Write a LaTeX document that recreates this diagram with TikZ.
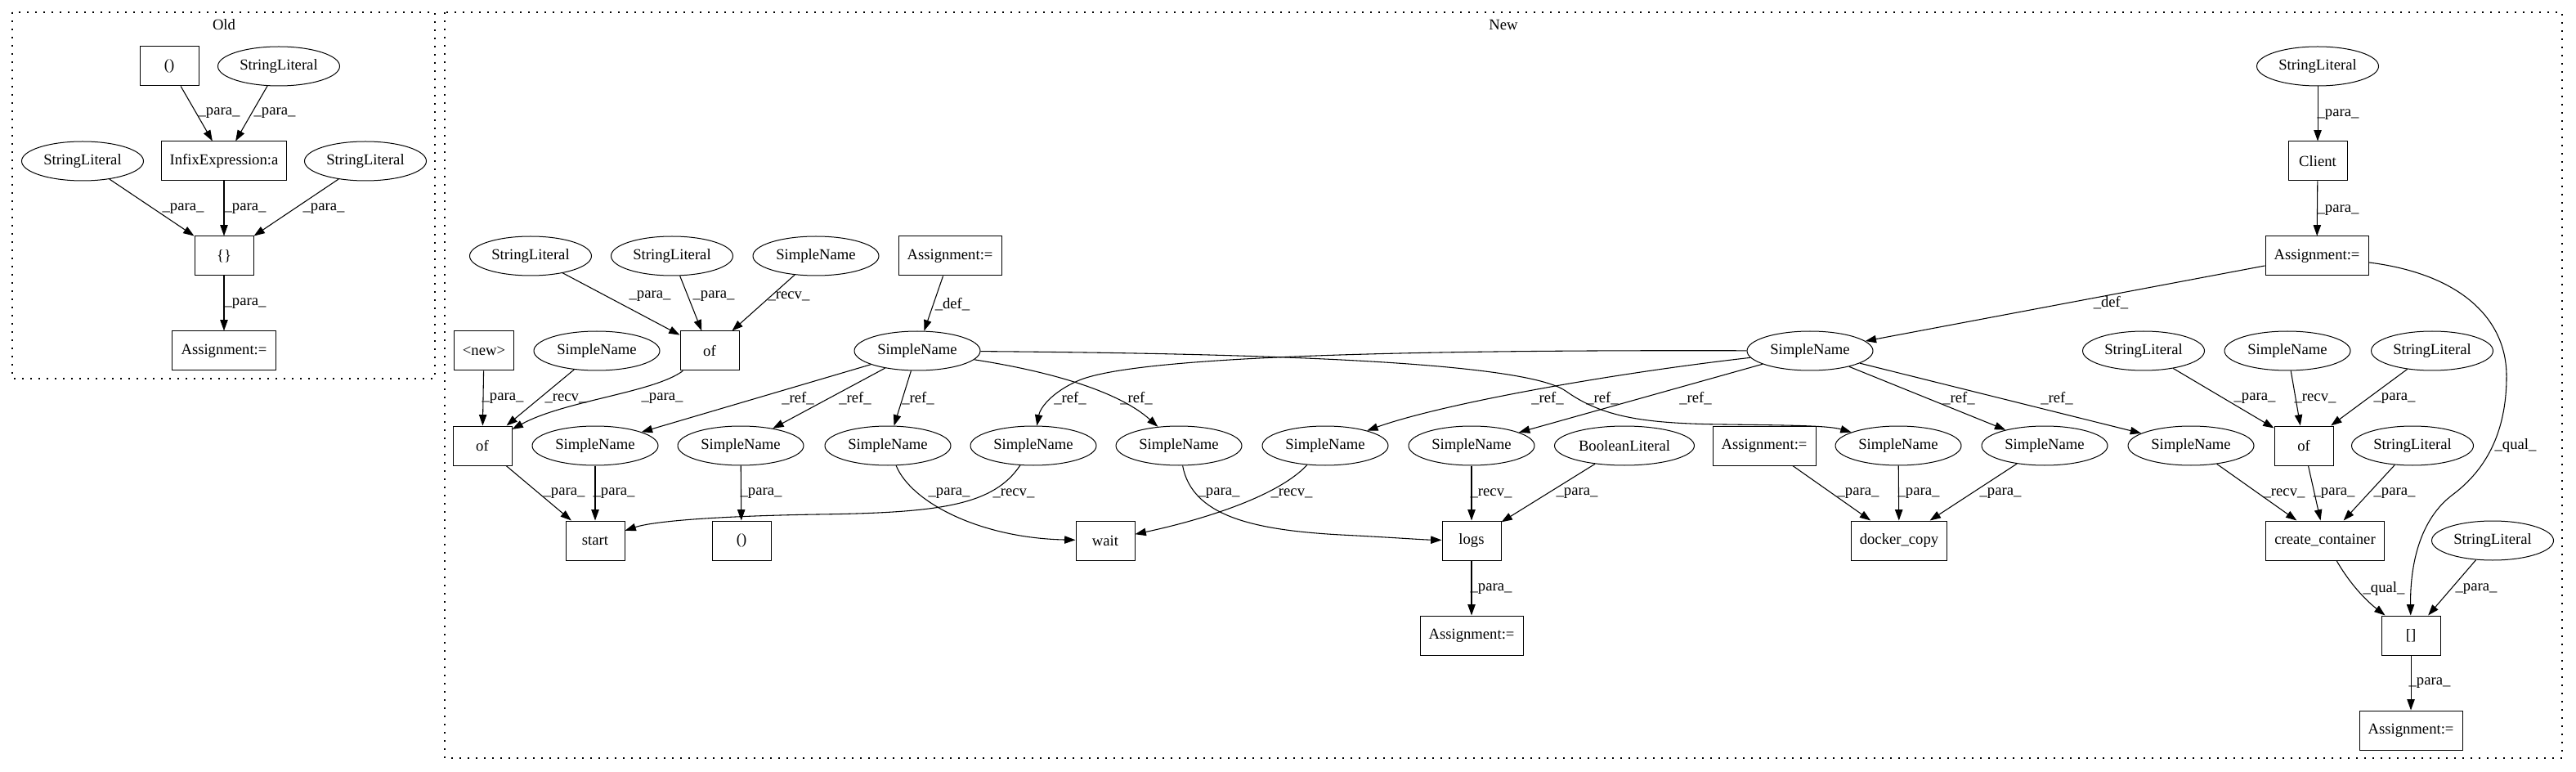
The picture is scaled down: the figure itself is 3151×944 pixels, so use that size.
\documentclass[tikz,border=0pt]{standalone}
\usepackage{fontspec}
\setmainfont{Liberation Serif}
\usetikzlibrary{shapes.geometric,arrows.meta}
\begin{document}
\begin{tikzpicture}[x=0.75pt,y=-0.75pt,
  every node/.style={font=\fontsize{14pt}{16.8pt}\selectfont},
  box/.style={draw,line width=0.75pt,rectangle,minimum width=54pt,minimum height=36pt,inner xsep=7.92pt,inner ysep=0pt},
  ell/.style={draw,line width=0.75pt,ellipse,minimum height=36pt,inner sep=0pt},
  sl/.style={ell,minimum width=111.75pt},
  sn/.style={ell,minimum width=115.5pt},
  bl/.style={ell,minimum width=128.25pt},
  edge/.style={line width=0.8pt,-{Triangle[length=10pt,width=7pt]}},
  lbl/.style={inner sep=0pt},
  cluster/.style={line width=1pt,dash pattern=on 1.2pt off 6.3pt},
]
\useasboundingbox (0,0) rectangle (3151,944);

% ---------------- Old ----------------
\draw[cluster] (15,15) rectangle (532,463);
\node (oldlbl) at (274,30) {Old};
\node[box] (o1) at (207,81) {()};
\node[sl]  (o2) at (341,81) {StringLiteral};
\node[box] (o3) at (274,197) {InfixExpression:a};
\node[sl]  (o4) at (101,197) {StringLiteral};
\node[sl]  (o5) at (447,197) {StringLiteral};
\node[box] (o6) at (274,313) {\{\}};
\node[box] (o7) at (274,429) {Assignment:=};

\draw[edge] (o1) -- (o3); \node[lbl] (lo1) at (268,138) {\_para\_};
\draw[edge] (o2) -- (o3); \node[lbl] (lo2) at (336,138) {\_para\_};
\draw[edge] (o4) -- (o6); \node[lbl] (lo3) at (224,255) {\_para\_};
\draw[edge] (o3) -- (o6); \node[lbl] (lo4) at (300,255) {\_para\_};
\draw[edge] (o5) -- (o6); \node[lbl] (lo5) at (396,255) {\_para\_};
\draw[edge] (o6) -- (o7); \node[lbl] (lo6) at (300,371) {\_para\_};

% ---------------- New ----------------
\draw[cluster] (544,15) rectangle (3134,927);
\node (newlbl) at (1839,30) {New};

\node[sl]  (Q) at (2835,81) {StringLiteral};
\node[box] (Cl) at (2835,197) {Client};
\node[box] (R) at (2834,313) {Assignment:=};

\node[sl]  (A) at (649,313) {StringLiteral};
\node[sl]  (B) at (822,313) {StringLiteral};
\node[sn]  (C) at (998,313) {SimpleName};
\node[box] (D) at (1162,313) {Assignment:=};

\node[box] (nw) at (592,429) {<new>};
\node[sn]  (E) at (730,429) {SimpleName};
\node[box] (F) at (868,429) {of};
\node[sn]  (G) at (1122,429) {SimpleName};
\node[sn]  (V) at (2214,429) {SimpleName};
\node[sl]  (S) at (2622,429) {StringLiteral};
\node[sn]  (T) at (2798,429) {SimpleName};
\node[sl]  (U) at (2975,429) {StringLiteral};

\node[box] (H) at (590,545) {of};
\node[sn]  (I) at (728,545) {SimpleName};
\node[sn]  (J) at (906,545) {SimpleName};
\node[sn]  (K) at (1086,545) {SimpleName};
\node[sn]  (BB) at (1264,545) {SimpleName};
\node[sn]  (CC) at (1442,545) {SimpleName};
\node[sn]  (DD) at (1621,545) {SimpleName};
\node[sn]  (X) at (1800,545) {SimpleName};
\node[bl]  (Y) at (1987,545) {BooleanLiteral};
\node[box] (Z) at (2158,545) {Assignment:=};
\node[sn]  (AA) at (2322,545) {SimpleName};
\node[sn]  (L) at (2501,545) {SimpleName};
\node[sn]  (M) at (2680,545) {SimpleName};
\node[box] (N) at (2818,545) {of};
\node[sl]  (O) at (2951,545) {StringLiteral};

\node[box] (st) at (728,661) {start};
\node[box] (pa) at (907,661) {()};
\node[box] (wt) at (1352,661) {wait};
\node[box] (lg) at (1800,661) {logs};
\node[box] (dc) at (2323,661) {docker\_copy};
\node[box] (cc) at (2844,661) {create\_container};
\node[sl]  (P) at (3049,661) {StringLiteral};

\node[box] (la) at (1800,777) {Assignment:=};
\node[box] (br) at (2949,777) {[]};
\node[box] (fa) at (2949,893) {Assignment:=};

% edges
\draw[edge] (Q) -- (Cl); \node[lbl] (l1) at (2860,140) {\_para\_};
\draw[edge] (Cl) -- (R); \node[lbl] (l2) at (2860,257) {\_para\_};
\draw[edge] (R) -- (V.10); \node[lbl] (l3) at (2582,370) {\_def\_};
\draw[edge] (R) .. controls (3010,335) and (3066,390) .. (3066,460)
  .. controls (3066,530) and (3040,575) .. (3000,605)
  .. controls (2960,635) and (2948,690) .. (br);
\node[lbl] (l4) at (3077,545) {\_qual\_};
\draw[edge] (D) -- (G); \node[lbl] (l5) at (1165,372) {\_def\_};
\draw[edge] (A) -- (F); \node[lbl] (l6) at (795,362) {\_para\_};
\draw[edge] (B) -- (F); \node[lbl] (l7) at (873,362) {\_para\_};
\draw[edge] (C) -- (F); \node[lbl] (l8) at (965,362) {\_recv\_};
\draw[edge] (nw) -- (H); \node[lbl] (l9) at (615,487) {\_para\_};
\draw[edge] (E) -- (H); \node[lbl] (l10) at (692,487) {\_recv\_};
\draw[edge] (F) .. controls (800,480) and (690,490) .. (H); \node[lbl] (l11) at (810,487) {\_para\_};
\draw[edge] (H) -- (st); \node[lbl] (l12) at (690,603) {\_para\_};
\draw[edge] (I) -- (st); \node[lbl] (l13) at (751,603) {\_para\_};
\draw[edge] (G) -- (I); \node[lbl] (l14) at (976,487) {\_ref\_};
\draw[edge] (G) -- (J); \node[lbl] (l15) at (1046,487) {\_ref\_};
\draw[edge] (G) -- (K); \node[lbl] (l16) at (1123,487) {\_ref\_};
\draw[edge] (J) -- (pa); \node[lbl] (l17) at (931,603) {\_para\_};
\draw[edge] (K) .. controls (1115,615) and (1200,658) .. (wt); \node[lbl] (l18) at (1161,603) {\_para\_};
\draw[edge] (BB) .. controls (1215,618) and (1150,627) .. (1000,629)
  .. controls (880,631) and (800,637) .. (st);
\node[lbl] (l19) at (1240,603) {\_recv\_};
\draw[edge] (G) .. controls (1290,455) and (1370,480) .. (CC); \node[lbl] (l20) at (1390,487) {\_ref\_};
\draw[edge] (V) .. controls (1800,428) and (1400,432) .. (1320,465)
  .. controls (1285,480) and (1272,500) .. (BB);
\node[lbl] (l21) at (1309,487) {\_ref\_};
\draw[edge] (DD) .. controls (1560,610) and (1460,638) .. (wt); \node[lbl] (l22) at (1580,603) {\_recv\_};
\draw[edge] (CC) .. controls (1458,630) and (1530,648) .. (1640,654)
  .. controls (1700,657) and (1740,660) .. (lg);
\node[lbl] (l23) at (1491,603) {\_para\_};
\draw[edge] (X) -- (lg); \node[lbl] (l24) at (1824,603) {\_recv\_};
\draw[edge] (Y) -- (lg); \node[lbl] (l25) at (1929,603) {\_para\_};
\draw[edge] (lg) -- (la); \node[lbl] (l26) at (1824,720) {\_para\_};
\draw[edge] (Z) -- (dc); \node[lbl] (l27) at (2273,603) {\_para\_};
\draw[edge] (AA) -- (dc); \node[lbl] (l28) at (2347,603) {\_para\_};
\draw[edge] (L) -- (dc); \node[lbl] (l29) at (2447,603) {\_para\_};
\draw[edge] (V) -- (L); \node[lbl] (l30) at (2396,487) {\_ref\_};
\draw[edge] (V) -- (M); \node[lbl] (l31) at (2516,487) {\_ref\_};
\draw[edge] (V) .. controls (1960,458) and (1760,495) .. (DD); \node[lbl] (l32) at (1893,487) {\_ref\_};
\draw[edge] (V) -- (X); \node[lbl] (l33) at (2074,487) {\_ref\_};
\draw[edge] (G) .. controls (1500,432) and (1860,440) .. (1915,478)
  .. controls (1960,510) and (2010,518) .. (2110,519)
  .. controls (2180,520) and (2235,520) .. (AA);
\node[lbl] (l34) at (1960,487) {\_ref\_};
\draw[edge] (S) -- (N); \node[lbl] (l35) at (2758,487) {\_para\_};
\draw[edge] (T) -- (N); \node[lbl] (l36) at (2832,487) {\_recv\_};
\draw[edge] (U) -- (N); \node[lbl] (l37) at (2929,487) {\_para\_};
\draw[edge] (M) -- (cc); \node[lbl] (l38) at (2794,603) {\_recv\_};
\draw[edge] (N) -- (cc); \node[lbl] (l39) at (2855,603) {\_para\_};
\draw[edge] (O) -- (cc); \node[lbl] (l40) at (2929,603) {\_para\_};
\draw[edge] (cc) .. controls (2875,715) and (2895,735) .. (br); \node[lbl] (l41) at (2916,720) {\_qual\_};
\draw[edge] (P) -- (br); \node[lbl] (l42) at (3029,720) {\_para\_};
\draw[edge] (br) -- (fa); \node[lbl] (l43) at (2972,835) {\_para\_};
\end{tikzpicture}
\end{document}
